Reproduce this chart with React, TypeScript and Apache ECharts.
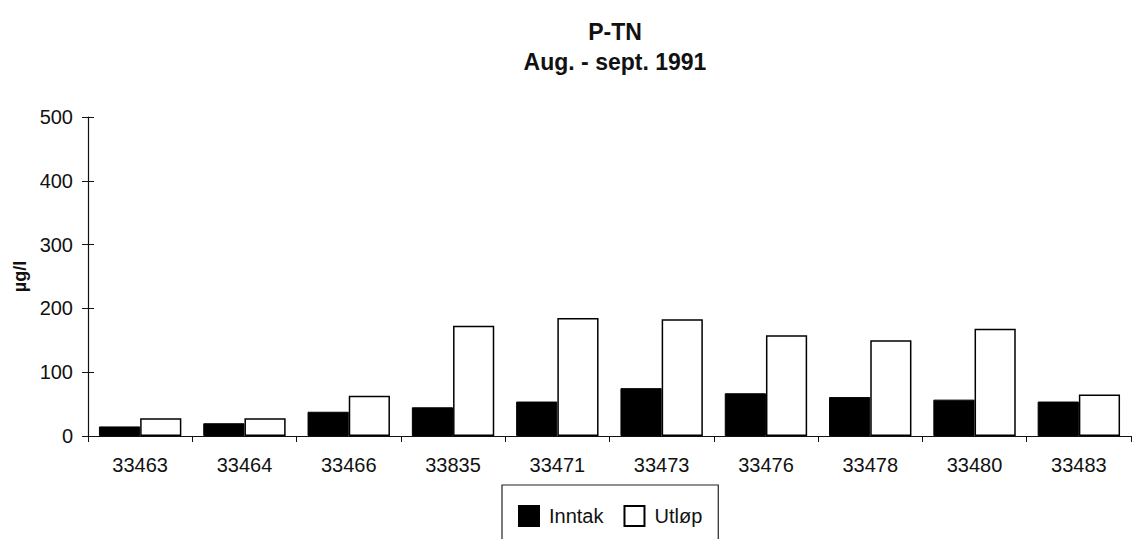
import React, { useEffect, useRef } from "react";
import * as echarts from "echarts";

const categories = ["33463", "33464", "33466", "33835", "33471", "33473", "33476", "33478", "33480", "33483"];
const inntak = [15, 20, 38, 45, 54, 75, 67, 61, 57, 54];
const utlop = [28, 28, 63, 173, 185, 183, 158, 150, 168, 65];
const yTicks = [0, 100, 200, 300, 400, 500];

export default function App() {
  const ref = useRef<HTMLDivElement>(null);
  useEffect(() => {
    if (!ref.current) return;
    const chart = echarts.init(ref.current, null, { renderer: "svg" });
    const font = "'Liberation Sans', Arial, sans-serif";
    chart.setOption({
      animation: false,
      backgroundColor: "#ffffff",
      textStyle: { fontFamily: font, color: "#000" },
      title: {
        text: "P-TN\nAug. - sept. 1991",
        left: 610,
        textAlign: "center",
        top: 12,
        textStyle: { fontFamily: font, fontSize: 23, fontWeight: "bold", color: "#111", lineHeight: 30 },
      },
      grid: { left: 88, right: 5, top: 117, bottom: 103, containLabel: false },
      legend: {
        data: ["Inntak", "Utløp"],
        icon: "rect",
        left: 502,
        top: 485,
        padding: [20, 16, 40, 16],
        borderColor: "#222",
        borderWidth: 1.2,
        itemWidth: 20,
        itemHeight: 20,
        itemGap: 20,
        textStyle: { fontFamily: font, fontSize: 20, color: "#111", padding: [0, 0, 0, 5] },
      },
      xAxis: {
        type: "category",
        data: categories,
        axisLine: { lineStyle: { color: "#111", width: 1.2 } },
        axisTick: { show: true, length: 6, lineStyle: { color: "#111" } },
        axisLabel: { fontFamily: font, fontSize: 20, color: "#111", margin: 19 },
      },
      yAxis: [
        {
          type: "value",
          min: 0,
          max: 500,
          interval: 100,
          name: "µg/l",
          nameLocation: "middle",
          nameRotate: 90,
          nameGap: 54,
          nameTextStyle: { fontFamily: font, fontSize: 18, fontWeight: "bold", color: "#111" },
          axisLine: { show: true, lineStyle: { color: "#111", width: 1.2 } },
          axisTick: { show: true, length: 6, lineStyle: { color: "#111" } },
          splitLine: { show: false },
          axisLabel: {
            fontFamily: font,
            fontSize: 20,
            color: "#111",
            margin: 15,
            formatter: (v: number) => (yTicks.includes(v) ? String(v) : ""),
          },
        },
        {
          type: "value",
          position: "left",
          min: 0,
          max: 500,
          interval: 100,
          axisLine: { show: false },
          axisTick: { show: true, inside: true, length: 6, lineStyle: { color: "#111" } },
          axisLabel: { show: false },
          splitLine: { show: false },
        },
      ],
      series: [
        {
          name: "Inntak",
          type: "bar",
          data: inntak,
          barGap: "0%",
          barCategoryGap: "21%",
          itemStyle: { color: "#000", borderColor: "#000", borderWidth: 1 },
        },
        {
          name: "Utløp",
          type: "bar",
          data: utlop,
          barGap: "0%",
          barCategoryGap: "21%",
          itemStyle: { color: "#fff", borderColor: "#000", borderWidth: 1.5 },
        },
      ],
    });
    return () => chart.dispose();
  }, []);
  return (
    <div
      ref={ref}
      style={{ position: "fixed", left: 0, top: 0, width: 1136, height: 539, background: "#fff" }}
    />
  );
}
